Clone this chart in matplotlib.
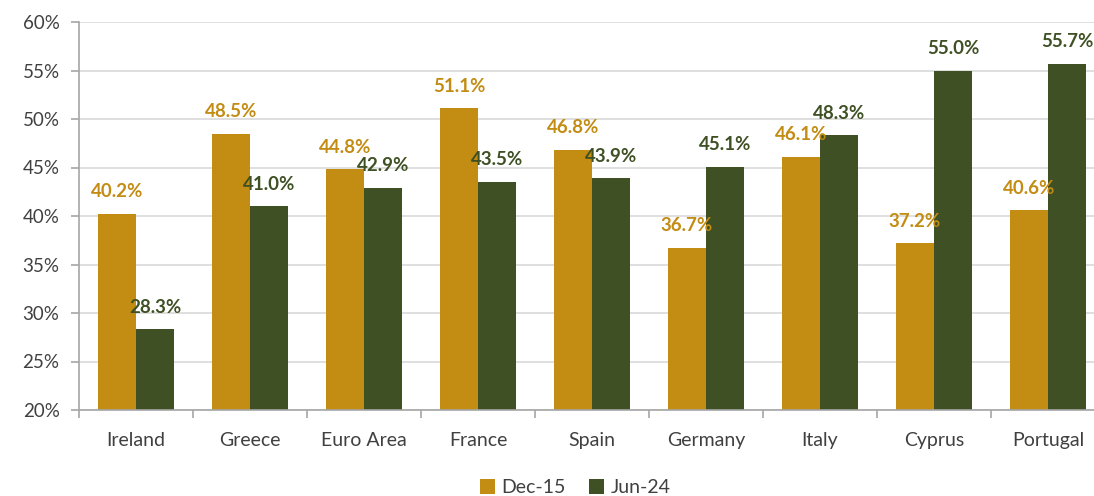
import matplotlib.pyplot as plt
import numpy as np

plt.rcParams['font.family'] = ['Lato', 'DejaVu Sans']

countries = ["Ireland", "Greece", "Euro Area", "France", "Spain", "Germany", "Italy", "Cyprus", "Portugal"]
dec15 = [40.2, 48.5, 44.8, 51.1, 46.8, 36.7, 46.1, 37.2, 40.6]
jun24 = [28.3, 41.0, 42.9, 43.5, 43.9, 45.1, 48.3, 55.0, 55.7]

ORANGE = "#C38C13"
GREEN = "#3F5024"
GRID = "#D9D9D9"
AXIS = "#A6A6A6"

fig = plt.figure(figsize=(10.94, 4.96), dpi=100)
ax = fig.add_axes([79 / 1094, 86 / 496, 1026 / 1094, 388 / 496])

x = np.arange(len(countries))
w = 1 / 3
b1 = ax.bar(x - w / 2, [v - 20 for v in dec15], w, bottom=20, color=ORANGE, label="Dec-15")
b2 = ax.bar(x + w / 2, [v - 20 for v in jun24], w, bottom=20, color=GREEN, label="Jun-24")

# data labels sit a little above each bar
for xi, v in zip(x, dec15):
    ax.text(xi - w / 2, v + 1.4, f"{v:.1f}%", ha="center", va="bottom", color=ORANGE,
            fontsize=13.5, fontweight="bold")
for xi, v in zip(x, jun24):
    ax.text(xi + w / 2, v + 1.4, f"{v:.1f}%", ha="center", va="bottom", color=GREEN,
            fontsize=13.5, fontweight="bold")

ax.set_xlim(-0.5, len(countries) - 0.5)
ax.set_ylim(20, 60)
ax.set_yticks(range(20, 61, 5))
ax.set_yticklabels([f"{t}%" for t in range(20, 61, 5)], fontsize=13.5, color="#404040")
ax.set_xticks(x)
ax.set_xticklabels(countries, fontsize=14, color="#404040")
ax.set_xticks(np.arange(-0.5, len(countries), 1), minor=True)
ax.tick_params(axis="x", which="major", length=0, pad=16)
ax.tick_params(axis="x", which="minor", length=6, color=AXIS, width=1.2)
ax.tick_params(axis="y", length=6, color=AXIS, width=1.2, pad=8)

ax.yaxis.grid(True, color=GRID, linewidth=1.2)
ax.set_axisbelow(True)
for s in ["top", "right"]:
    ax.spines[s].set_visible(False)
for s in ["left", "bottom"]:
    ax.spines[s].set_color(AXIS)
    ax.spines[s].set_linewidth(1.2)

fig.legend(handles=[b1, b2], loc="lower center", bbox_to_anchor=(575 / 1094, -0.035), ncol=2,
           frameon=False, fontsize=14, handlelength=0.8, handleheight=0.8, handletextpad=0.3,
           columnspacing=1.2, labelcolor="#404040")

fig.savefig("out.png", dpi=100)
